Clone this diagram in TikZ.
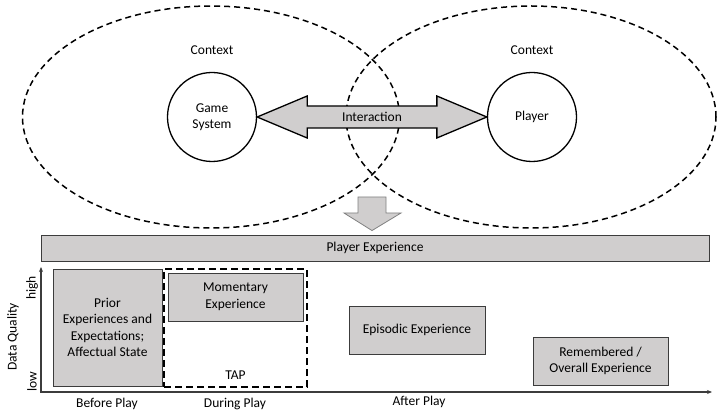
\documentclass[tikz,border=0pt]{standalone}
\usepackage{fontspec}
\setmainfont{Carlito}
\usetikzlibrary{shapes.geometric,arrows.meta,positioning,calc}
\definecolor{boxgray}{RGB}{208,206,206}
\definecolor{edgegray}{RGB}{60,60,60}

\begin{document}
\begin{tikzpicture}[x=1pt,y=-1pt,
  font=\fontsize{13.5}{16.5}\selectfont,>={Stealth[length=5pt,width=4pt]},
  ctxell/.style={draw,ellipse,line width=1.5pt,dash pattern=on 6pt off 4pt,inner sep=0pt},
  circ/.style={draw,circle,line width=1.3pt,fill=white,minimum size=89pt,inner sep=0pt,align=center},
  gbox/.style={draw=edgegray,fill=boxgray,line width=0.9pt,inner sep=0pt,align=center},
  tapbox/.style={draw,line width=2pt,dash pattern=on 7pt off 4pt,inner sep=0pt},
  axis/.style={line width=1.2pt,draw=edgegray}
]
\useasboundingbox (0,0) rectangle (717,411);
% context ellipses
\node[ctxell,minimum width=377pt,minimum height=222pt] (ctxL) at (211,117) {};
\node[ctxell,minimum width=370pt,minimum height=222pt] (ctxR) at (531,117) {};
% game system and player
\node[circ] (gs) at (212,117) {Game\\System};
\node[circ] (pl) at (532,117) {Player};
\node[above=14pt of gs] (ctxLlbl) {Context};
\node[above=14pt of pl] (ctxRlbl) {Context};
% interaction arrow
\draw[line width=1.3pt,fill=boxgray]
  (gs.east) -- ++(50,-21) -- ++(0,10) -- ($(pl.west)+(-50,-11)$) -- ++(0,-10)
  -- (pl.west) -- ++(-50,21) -- ++(0,-10) -- ($(gs.east)+(50,11)$) -- ++(0,10) -- cycle;
\node (inter) at ($(gs.east)!0.5!(pl.west)$) {Interaction};
% player experience
\node[gbox,minimum width=668pt,minimum height=26pt] (pex) at (375,248) {Player Experience};
\coordinate (dtop) at (372,197);
\draw[draw=gray,line width=0.8pt,fill=boxgray]
  ($(dtop)+(-14,0)$) -- ($(dtop)+(14,0)$) -- ++(0,16) -- ++(15,0)
  -- ($(pex.north)+(-3,-4)$) -- ($(dtop)+(-28,16)$) -- ++(14,0) -- cycle;
% axes
\coordinate (orig) at (41,392);
\coordinate (ytop) at (41,267);
\coordinate (xend) at (712,392);
\draw[axis,<->] (ytop) -- (orig) -- (xend);
\node[rotate=90] (dq) at (13,337) {Data Quality};
\node[rotate=90] (hi) at (32,288) {high};
\node[rotate=90] (lo) at (32,382) {low};
% experiences
\node[gbox,minimum width=109pt,minimum height=117pt] (prior) at (107.5,327.5)
  {Prior\\Experiences and\\Expectations;\\Affectual State};
\node[tapbox,minimum width=143pt,minimum height=118pt] (tap) at (235.5,328) {};
\node[gbox,minimum width=135pt,minimum height=48pt] (mom) at (235.5,297) {Momentary\\Experience};
\node (taplbl) at (235.5,375) {TAP};
\node[gbox,minimum width=136pt,minimum height=48pt] (epi) at (417,330) {Episodic Experience};
\node[gbox,minimum width=135pt,minimum height=48pt] (rem) at (600.5,361) {Remembered /\\Overall Experience};
% phases
\node (before) at (107,404) {Before Play};
\node (during) at (235,404) {During Play};
\node (after) at (419,402) {After Play};
\end{tikzpicture}
\end{document}
